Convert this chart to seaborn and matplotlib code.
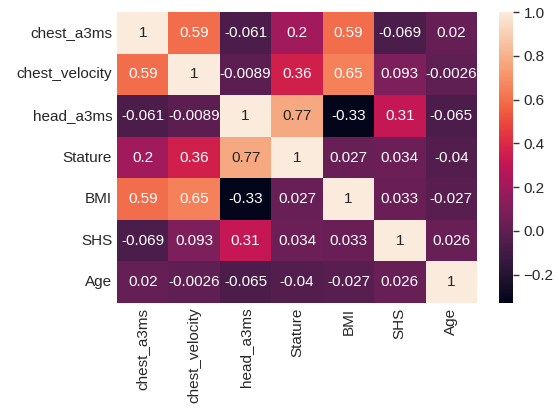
import numpy as np
import pandas as pd
import matplotlib
matplotlib.use("Agg")
import matplotlib.pyplot as plt
import seaborn as sns

variables = ["chest_a3ms", "chest_velocity", "head_a3ms", "Stature", "BMI", "SHS", "Age"]

chest_a3ms     = [1.0,    0.59,    -0.061,  0.2,   0.59,   -0.069, 0.02]
chest_velocity = [0.59,   1.0,     -0.0089, 0.36,  0.65,   0.093,  -0.0026]
head_a3ms      = [-0.061, -0.0089, 1.0,     0.77,  -0.33,  0.31,   -0.065]
stature        = [0.2,    0.36,    0.77,    1.0,   0.027,  0.034,  -0.04]
bmi            = [0.59,   0.65,    -0.33,   0.027, 1.0,    0.033,  -0.027]
shs            = [-0.069, 0.093,   0.31,    0.034, 0.033,  1.0,    0.026]
age            = [0.02,   -0.0026, -0.065,  -0.04, -0.027, 0.026,  1.0]

corr = pd.DataFrame(
    [chest_a3ms, chest_velocity, head_a3ms, stature, bmi, shs, age],
    index=variables, columns=variables,
)

sns.set_theme(style="white")
plt.rcParams["font.family"] = ["Liberation Sans", "DejaVu Sans"]

fig = plt.figure(figsize=(5.55, 4.12), dpi=100)
ax = fig.add_axes([117 / 555, 109 / 412, 360 / 555, 291 / 412])
cax = fig.add_axes([499 / 555, 109 / 412, 14 / 555, 291 / 412])

sns.heatmap(corr, annot=True, ax=ax, cbar_ax=cax, annot_kws={"size": 11})

ax.tick_params(axis="both", length=0, labelsize=11)
ax.set_xticklabels(ax.get_xticklabels(), rotation=90)
ax.set_yticklabels(ax.get_yticklabels(), rotation=0)
cax.tick_params(labelsize=11, length=4, width=1, color="#333333")
cax.yaxis.set_ticks([-0.2, 0.0, 0.2, 0.4, 0.6, 0.8, 1.0])

fig.savefig("out.png", dpi=100)
